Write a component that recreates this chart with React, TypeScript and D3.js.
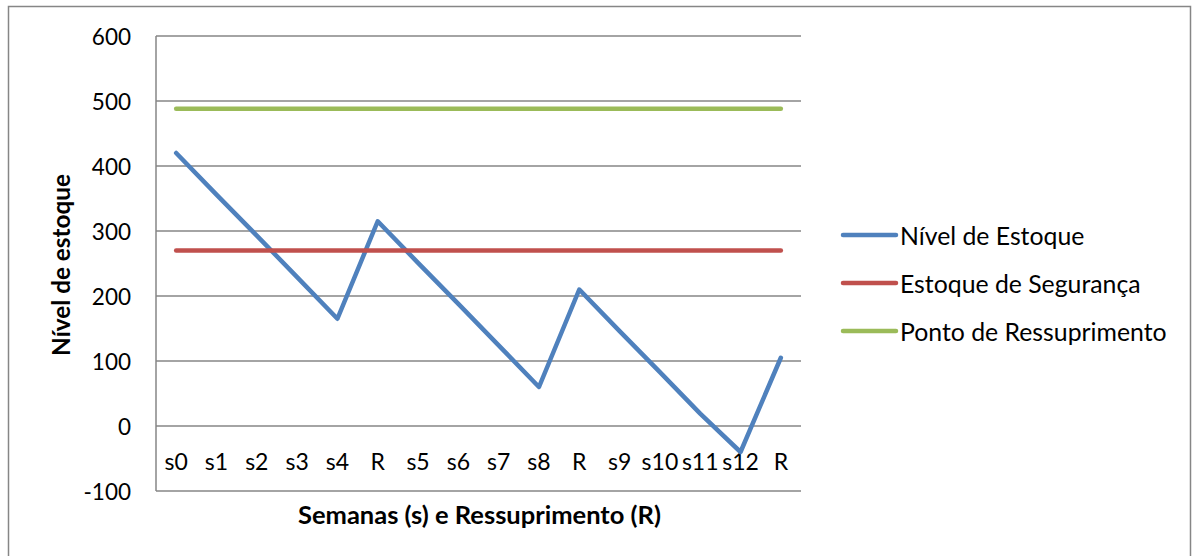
import React from "react";
import * as d3 from "d3";

const categories = ["s0", "s1", "s2", "s3", "s4", "R", "s5", "s6", "s7", "s8", "R", "s9", "s10", "s11", "s12", "R"];
const nivelEstoque = [420, 356, 293, 229, 165, 315, 251, 188, 124, 60, 210, 146, 83, 19, -40, 105];
const estoqueSeguranca = [270, 270, 270, 270, 270, 270, 270, 270, 270, 270, 270, 270, 270, 270, 270, 270];
const pontoRessuprimento = [488, 488, 488, 488, 488, 488, 488, 488, 488, 488, 488, 488, 488, 488, 488, 488];
const yTicks = [-100, 0, 100, 200, 300, 400, 500, 600];

const seriesList = [
  { name: "Nível de Estoque", values: nivelEstoque, color: "#4F81BD" },
  { name: "Estoque de Segurança", values: estoqueSeguranca, color: "#C0504D" },
  { name: "Ponto de Ressuprimento", values: pontoRessuprimento, color: "#9BBB59" },
];

const W = 1195;
const H = 556;
const plot = { left: 156, right: 801, top: 36, bottom: 491 };
const FONT = "Lato, 'Open Sans', sans-serif";

export default function App() {
  const x = d3
    .scaleBand<number>()
    .domain(categories.map((_, i) => i))
    .range([plot.left, plot.right]);
  const y = d3.scaleLinear().domain([-100, 600]).range([plot.bottom, plot.top]);
  const cx = (i: number) => (x(i) as number) + x.bandwidth() / 2;
  const line = d3
    .line<number>()
    .x((_, i) => cx(i))
    .y((d) => y(d));

  return (
    <svg width={W} height={H} style={{ position: "absolute", left: 0, top: 0, background: "#fff" }}>
      <rect x={8.5} y={6.5} width={1182} height={570} fill="#fff" stroke="#868686" strokeWidth={1.5} />
      {yTicks.map((t) => (
        <g key={t}>
          <line x1={plot.left} x2={plot.right} y1={y(t)} y2={y(t)} stroke="#868686" strokeWidth={1.5} />
          <text
            x={131}
            y={y(t)}
            textAnchor="end"
            dominantBaseline="central"
            fontFamily={FONT}
            fontSize={22.5}
            fill="#000"
          >
            {t}
          </text>
        </g>
      ))}
      <line x1={plot.left} x2={plot.left} y1={plot.top} y2={plot.bottom} stroke="#868686" strokeWidth={1.5} />
      {categories.map((c, i) => (
        <text
          key={i}
          x={cx(i)}
          y={461}
          textAnchor="middle"
          dominantBaseline="central"
          fontFamily={FONT}
          fontSize={23}
          fill="#000"
        >
          {c}
        </text>
      ))}
      {seriesList.map((s) => (
        <path
          key={s.name}
          d={line(s.values) || ""}
          fill="none"
          stroke={s.color}
          strokeWidth={4.5}
          strokeLinecap="round"
          strokeLinejoin="round"
        />
      ))}
      <text
        x={(plot.left + plot.right) / 2 + 1}
        y={514}
        textAnchor="middle"
        dominantBaseline="central"
        fontFamily={FONT}
        fontSize={25.5}
        fontWeight="bold"
        fill="#000"
      >
        Semanas (s) e Ressuprimento (R)
      </text>
      <text
        transform={`translate(60, 265) rotate(-90)`}
        textAnchor="middle"
        dominantBaseline="central"
        fontFamily={FONT}
        fontSize={24.3}
        fontWeight="bold"
        fill="#000"
      >
        Nível de estoque
      </text>
      {seriesList.map((s, i) => {
        const ly = 235 + i * 48;
        return (
          <g key={s.name}>
            <line x1={843} x2={896} y1={ly} y2={ly} stroke={s.color} strokeWidth={4.5} strokeLinecap="round" />
            <text x={900} y={ly} dominantBaseline="central" fontFamily={FONT} fontSize={24.8} fill="#000">
              {s.name}
            </text>
          </g>
        );
      })}
    </svg>
  );
}
